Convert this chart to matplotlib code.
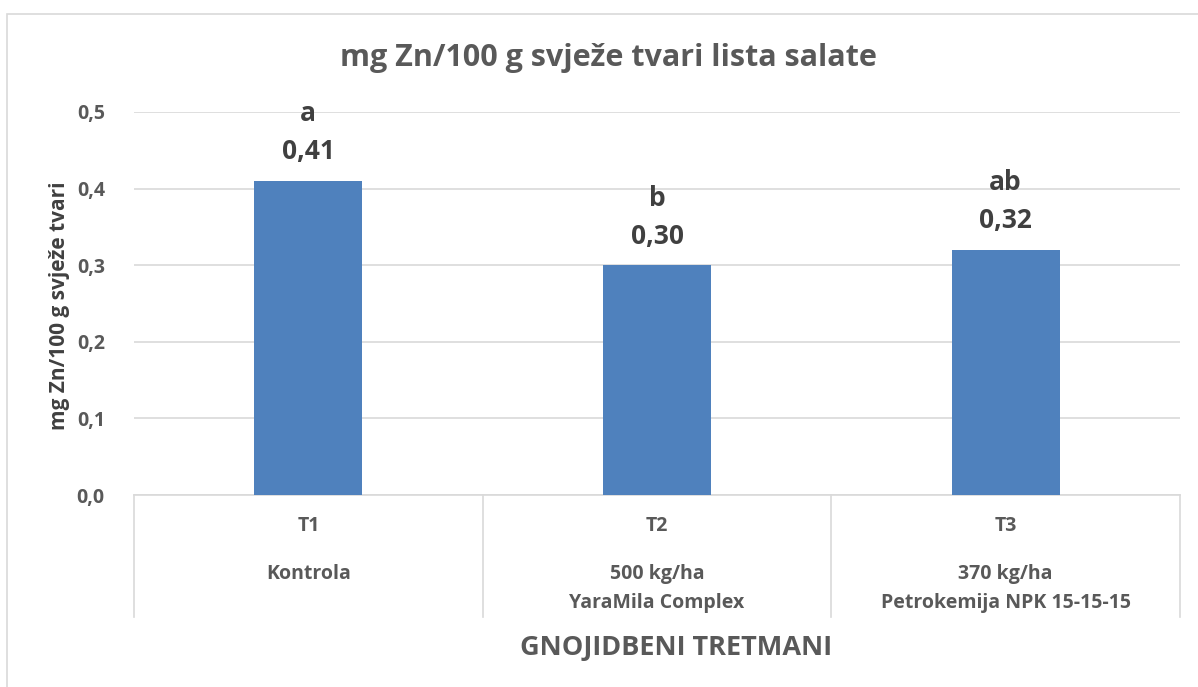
import matplotlib
matplotlib.use("Agg")
import matplotlib.pyplot as plt
from matplotlib.patches import Rectangle

codes = ["T1", "T2", "T3"]
descriptions = ["Kontrola", "500 kg/ha\nYaraMila Complex", "370 kg/ha\nPetrokemija NPK 15-15-15"]
values = [0.41, 0.30, 0.32]
value_labels = ["0,41", "0,30", "0,32"]
letters = ["a", "b", "ab"]
yticks = [0.0, 0.1, 0.2, 0.3, 0.4, 0.5]
ytick_labels = ["0,0", "0,1", "0,2", "0,3", "0,4", "0,5"]

plt.rcParams['font.family'] = ['Open Sans', 'DejaVu Sans']
W, H = 1198, 687
fig = plt.figure(figsize=(W/100, H/100), dpi=100)

# outer chart border
fig.patches.append(Rectangle((7/W, -0.1), 1.2, 1 - 14/H + 0.1, transform=fig.transFigure,
                             fill=False, edgecolor="#D9D9D9", linewidth=1.2))

y0, y5 = 495, 112
left, right = 134/W, 1180/W
bottom, top = 1 - y0/H, 1 - y5/H
ax = fig.add_axes([left, bottom, right - left, top - bottom])

txt = "#595959"
x = list(range(len(codes)))
ax.bar(x, values, width=0.31, color="#4F81BD", zorder=3)
ax.set_xlim(-0.5, len(codes) - 0.5)
ax.set_ylim(0, 0.5)
ax.set_yticks(yticks)
ax.set_yticklabels(ytick_labels, fontsize=14, fontweight="bold", color=txt)
ax.tick_params(axis="y", length=0, pad=21)
ax.set_xticks([])
ax.grid(axis="y", color="#D9D9D9", linewidth=1.2, zorder=0)
for s in ["top", "right", "left"]:
    ax.spines[s].set_visible(False)
ax.spines["bottom"].set_color("#D9D9D9")
ax.spines["bottom"].set_linewidth(1.2)

for xi, v, vl, lt in zip(x, values, value_labels, letters):
    ax.annotate(vl, (xi, v), xytext=(0, 29), textcoords="offset pixels",
                ha="center", va="center", fontsize=19, fontweight="bold", color="#404040")
    ax.annotate(lt, (xi, v), xytext=(0, 67), textcoords="offset pixels",
                ha="center", va="center", fontsize=19, fontweight="bold", color="#404040")

# category axis table
trans = ax.get_xaxis_transform()
span = y0 - y5
sep_bottom = (y0 - 617) / span
for b in [-0.5, 0.5, 1.5, 2.5]:
    ax.plot([b, b], [0, sep_bottom], transform=trans, color="#D9D9D9", lw=1.2, clip_on=False)

y_code = (y0 - 526) / span
for xi, c, d in zip(x, codes, descriptions):
    ax.text(xi, y_code, c, transform=trans, ha="center", va="center",
            fontsize=14, fontweight="bold", color=txt)
    for k, line in enumerate(d.split("\n")):
        ax.text(xi, (y0 - 574 - 29 * k) / span, line, transform=trans, ha="center", va="center",
                fontsize=14, fontweight="bold", color=txt)

fig.text(676 / W, 1 - 648/H, "GNOJIDBENI TRETMANI", ha="center", va="center",
         fontsize=19.5, fontweight="bold", color=txt)
fig.text(608/W, 1 - 58/H, "mg Zn/100 g svježe tvari lista salate", ha="center", va="center",
         fontsize=22, fontweight="bold", color=txt)
fig.text(59/W, 1 - 306/H, "mg Zn/100 g svježe tvari", ha="center", va="center",
         rotation=90, fontsize=15, fontweight="bold", color="#404040")

fig.savefig("out.png", dpi=100)
